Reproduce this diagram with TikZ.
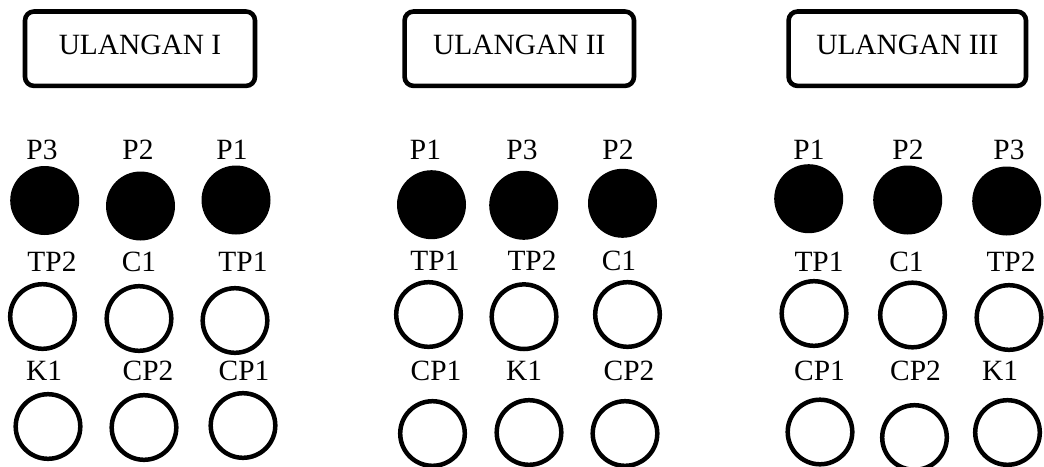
\documentclass[tikz,border=0pt]{standalone}
\usepackage{fontspec}
\setmainfont{Liberation Serif}
\begin{document}
\begin{tikzpicture}[x=0.5pt,y=-0.5pt,
  font=\fontsize{14.7pt}{17pt}\selectfont,
  titlebox/.style={draw,line width=2.3pt,rounded corners=4.5pt,minimum height=37.2pt,text depth=3.7pt,inner sep=0pt,outer sep=0pt},
  fulldot/.style={circle,fill=black,minimum size=34.5pt,inner sep=0pt,outer sep=0pt},
  emptydot/.style={circle,draw,line width=2.25pt,minimum size=32.3pt,inner sep=0pt,outer sep=0pt},
  lbl/.style={anchor=base,inner sep=0pt}]
\useasboundingbox (0,0) rectangle (1044,466);
% Panel 1
\node[titlebox,minimum width=115pt] (b1) at (140,48.7) {ULANGAN I};
\node[lbl] (l1a) at (42,159) {P3};
\node[lbl] (l1b) at (138,159) {P2};
\node[lbl] (l1c) at (232,159) {P1};
\node[fulldot] (f1a) at (44.7,200.5) {};
\node[fulldot] (f1b) at (140.5,206) {};
\node[fulldot] (f1c) at (236,200) {};
\node[lbl] (m1a) at (52,271.7) {TP2};
\node[lbl] (m1b) at (139,271.7) {C1};
\node[lbl] (m1c) at (243,271.7) {TP1};
\node[emptydot] (e1a) at (42.5,316.5) {};
\node[emptydot] (e1b) at (139,318.5) {};
\node[emptydot] (e1c) at (235,320.5) {};
\node[lbl] (n1a) at (44,380.7) {K1};
\node[lbl] (n1b) at (148,380.7) {CP2};
\node[lbl] (n1c) at (244,380.7) {CP1};
\node[emptydot] (g1a) at (48,426.5) {};
\node[emptydot] (g1b) at (144,427.5) {};
\node[emptydot] (g1c) at (243,425.5) {};
% Panel 2
\node[titlebox,minimum width=114.7pt] (b2) at (519.3,48.7) {ULANGAN II};
\node[lbl] (l2a) at (425.5,159) {P1};
\node[lbl] (l2b) at (522,159) {P3};
\node[lbl] (l2c) at (618,159) {P2};
\node[fulldot] (f2a) at (431.5,204.7) {};
\node[fulldot] (f2b) at (523.7,205.3) {};
\node[fulldot] (f2c) at (622.5,203.3) {};
\node[lbl] (m2a) at (435,270) {TP1};
\node[lbl] (m2b) at (532,270) {TP2};
\node[lbl] (m2c) at (619,270) {C1};
\node[emptydot] (e2a) at (428.5,314.5) {};
\node[emptydot] (e2b) at (524,316.7) {};
\node[emptydot] (e2c) at (627.5,314.5) {};
\node[lbl] (n2a) at (436,380) {CP1};
\node[lbl] (n2b) at (524,380) {K1};
\node[lbl] (n2c) at (629,380) {CP2};
\node[emptydot] (g2a) at (432.5,433.5) {};
\node[emptydot] (g2b) at (529,432.5) {};
\node[emptydot] (g2c) at (625,433.5) {};
% Panel 3
\node[titlebox,minimum width=118.7pt] (b3) at (907.3,48.7) {ULANGAN III};
\node[lbl] (l3a) at (809,159) {P1};
\node[lbl] (l3b) at (908,159) {P2};
\node[lbl] (l3c) at (1009,159) {P3};
\node[fulldot] (f3a) at (808.7,198.7) {};
\node[fulldot] (f3b) at (907.7,200) {};
\node[fulldot] (f3c) at (1006.7,201) {};
\node[lbl] (m3a) at (819,271.7) {TP1};
\node[lbl] (m3b) at (906.5,271.7) {C1};
\node[lbl] (m3c) at (1011,271.7) {TP2};
\node[emptydot] (e3a) at (814,313.5) {};
\node[emptydot] (e3b) at (912.5,315) {};
\node[emptydot] (e3c) at (1009,317.5) {};
\node[lbl] (n3a) at (819.5,380) {CP1};
\node[lbl] (n3b) at (915.5,380) {CP2};
\node[lbl] (n3c) at (1000,380) {K1};
\node[emptydot] (g3a) at (820,432) {};
\node[emptydot] (g3b) at (914.5,437.5) {};
\node[emptydot] (g3c) at (1007.5,432.5) {};
\end{tikzpicture}
\end{document}
